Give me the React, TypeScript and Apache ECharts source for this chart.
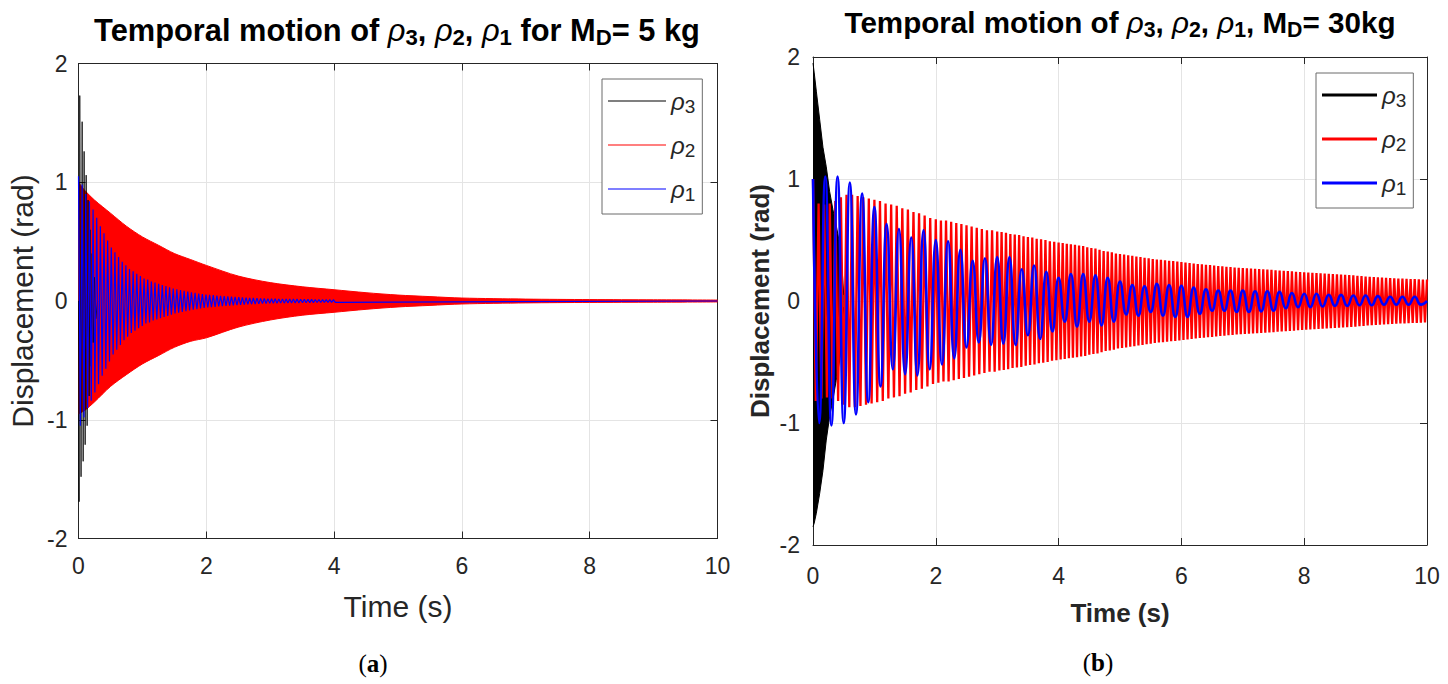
import { useEffect, useRef } from "react";
import * as echarts from "echarts";

// ---------- panel (a): M_D = 5 kg ----------
// rho3: the few large spikes right after t = 0
const rho3aTimes = [0, 0.01, 0.02, 0.04, 0.057, 0.073, 0.088, 0.104, 0.12, 0.135, 0.15, 0.166, 0.182, 0.198, 0.214, 0.23, 0.25, 0.27, 0.3];
const rho3aValues = [0, -1.69, 1.73, -1.48, 1.51, -1.35, 1.26, -1.21, 1.06, -1.05, 0.85, -0.8, 0.6, -0.55, 0.4, -0.35, 0.2, -0.15, 0];

// rho2: oscillates so fast it reads as a solid band; upper / lower edge of that band
const rho2aTimes = [0, 0.1, 0.25, 0.5, 0.75, 1, 1.25, 1.5, 1.75, 2, 2.5, 3, 3.5, 4, 4.5, 5, 5.5, 6, 7, 8, 9, 10];
const rho2aUpper = [1.0, 0.93, 0.85, 0.74, 0.63, 0.54, 0.47, 0.4, 0.35, 0.3, 0.21, 0.155, 0.12, 0.095, 0.07, 0.05, 0.037, 0.025, 0.016, 0.012, 0.01, 0.008];
const rho2aLower = [-0.95, -0.92, -0.85, -0.72, -0.62, -0.53, -0.46, -0.39, -0.34, -0.31, -0.22, -0.16, -0.12, -0.095, -0.07, -0.05, -0.037, -0.025, -0.016, -0.012, -0.01, -0.008];

// rho1: one amplitude per cycle, cycle length
const rho1aPeriod = 0.057;
const rho1aAmps = [
  1.05, 0.98, 0.9, 0.84, 0.77, 0.7, 0.63, 0.57, 0.51, 0.45,
  0.41, 0.37, 0.33, 0.3, 0.27, 0.25, 0.23, 0.21, 0.19, 0.18,
  0.165, 0.155, 0.145, 0.135, 0.125, 0.115, 0.105, 0.098, 0.092, 0.086,
  0.08, 0.074, 0.068, 0.063, 0.058, 0.055, 0.052, 0.049, 0.046, 0.043,
  0.041, 0.038, 0.036, 0.034, 0.032, 0.03, 0.028, 0.027, 0.025, 0.024,
  0.022, 0.021, 0.02, 0.019, 0.019, 0.018, 0.018, 0.017, 0.017, 0.016,
  0.016, 0.015, 0.015, 0.014, 0.014, 0.013, 0.013, 0.012, 0.012, 0.011, 0.011,
];

// ---------- panel (b): M_D = 30 kg ----------
const rho3bTimes = [0, 0.02, 0.054, 0.108, 0.162, 0.216, 0.27, 0.324, 0.378, 0.43, 0.47, 0.5];
const rho3bUpper = [1.95, 1.87, 1.72, 1.49, 1.26, 1.1, 0.9, 0.75, 0.62, 0.48, 0.3, 0.05];
const rho3bLower = [-1.85, -1.82, -1.74, -1.58, -1.39, -1.14, -0.95, -0.81, -0.65, -0.5, -0.3, -0.05];

// rho2: one row per second, one amplitude per cycle in that second
const rho2bStart = 1.0;
const rho2bBySecond = [
  [0.82, 0.8, 0.79, 0.8, 0.82, 0.85, 0.87, 0.87, 0.86, 0.85, 0.84],
  [0.83, 0.82, 0.8, 0.79, 0.78, 0.76, 0.75, 0.73, 0.72, 0.7, 0.68],
  [0.67, 0.66, 0.66, 0.65, 0.64, 0.63, 0.62, 0.61, 0.6, 0.59, 0.58, 0.58],
  [0.57, 0.565, 0.56, 0.55, 0.545, 0.54, 0.53, 0.525, 0.52, 0.51, 0.505, 0.5, 0.49, 0.485],
  [0.48, 0.475, 0.47, 0.465, 0.46, 0.455, 0.45, 0.44, 0.435, 0.43, 0.42, 0.41, 0.405, 0.4, 0.39],
  [0.385, 0.38, 0.375, 0.37, 0.365, 0.36, 0.355, 0.35, 0.345, 0.34, 0.337, 0.334, 0.33, 0.327, 0.324],
  [0.32, 0.316, 0.312, 0.308, 0.304, 0.3, 0.297, 0.294, 0.29, 0.287, 0.284, 0.281, 0.278, 0.275, 0.272],
  [0.27, 0.268, 0.266, 0.264, 0.262, 0.26, 0.257, 0.255, 0.252, 0.25, 0.248, 0.245, 0.243, 0.24, 0.238],
  [0.235, 0.233, 0.231, 0.229, 0.227, 0.225, 0.222, 0.22, 0.218, 0.216, 0.214, 0.212, 0.21, 0.207, 0.205],
  [0.2, 0.198, 0.196, 0.194, 0.192, 0.19, 0.189, 0.187, 0.185, 0.184, 0.182, 0.18, 0.179, 0.177, 0.176],
];

// rho1: peak and trough of every 0.2 s cycle
const rho1bPeriod = 0.2;
const rho1bUpper = [
  1.0, 1.02, 1.02, 0.97, 0.88, 0.77, 0.63, 0.59, 0.52, 0.58,
  0.5, 0.49, 0.42, 0.33, 0.35, 0.36, 0.36, 0.26, 0.29, 0.24,
  0.19, 0.22, 0.22, 0.21, 0.19, 0.16, 0.13, 0.12, 0.14, 0.13,
  0.125, 0.11, 0.095, 0.085, 0.085, 0.085, 0.08, 0.08, 0.075, 0.065,
  0.06, 0.06, 0.05, 0.05, 0.045, 0.045, 0.04, 0.035, 0.035, 0.035,
];
const rho1bLower = [
  -1.0, -1.02, -1.0, -0.93, -0.83, -0.7, -0.56, -0.6, -0.61, -0.56,
  -0.52, -0.47, -0.38, -0.34, -0.36, -0.35, -0.36, -0.28, -0.31, -0.25,
  -0.17, -0.21, -0.17, -0.2, -0.17, -0.11, -0.12, -0.09, -0.12, -0.13,
  -0.13, -0.105, -0.08, -0.08, -0.09, -0.09, -0.085, -0.08, -0.06, -0.05,
  -0.05, -0.045, -0.04, -0.04, -0.035, -0.035, -0.03, -0.03, -0.03, -0.03,
];

const xTicks = [0, 10, 2];
const yTicks = [-2, 2, 1];

const SANS = "Liberation Sans, Arial, Helvetica, sans-serif";
const SERIF = "Liberation Serif, Times New Roman, serif";
const AXIS = "#262626";
const GRID = "#e4e4e4";

const pairs = (ts: number[], vs: number[]) => ts.map((t, i) => [t, vs[i]]);

function buildRho1a() {
  const out: number[][] = [];
  rho1aAmps.forEach((a, k) => {
    out.push([k * rho1aPeriod, a], [k * rho1aPeriod + rho1aPeriod / 2, -a]);
  });
  out.push([10, 0]);
  return out;
}

function buildRho2b() {
  const out: number[][] = [];
  rho2bBySecond.forEach((row, s) => {
    const step = 1 / row.length;
    row.forEach((a, i) => {
      const t = s + i * step;
      out.push([t, s === 0 && i === 0 ? rho2bStart : a], [t + step / 2, -a]);
    });
  });
  const last = rho2bBySecond[rho2bBySecond.length - 1];
  out.push([10, last[last.length - 1]]);
  return out;
}

function buildRho1b() {
  const out: number[][] = [];
  rho1bUpper.forEach((u, k) => {
    out.push([k * rho1bPeriod, u], [k * rho1bPeriod + rho1bPeriod / 2, rho1bLower[k]]);
  });
  out.push([10, 0]);
  return out;
}

const boxLine = { show: true, onZero: false, lineStyle: { color: AXIS, width: 1 } };
const inTick = { show: true, inside: true, length: 7, lineStyle: { color: AXIS } };

const xAxes = (gridIndex: number, bold: boolean, nameSize: number, nameGap: number, labelMargin: number) => [
  {
    type: "value",
    gridIndex,
    min: xTicks[0],
    max: xTicks[1],
    interval: xTicks[2],
    name: "Time (s)",
    nameLocation: "middle",
    nameGap,
    nameTextStyle: { fontFamily: SANS, fontSize: nameSize, fontWeight: bold ? "bold" : "normal", color: AXIS },
    axisLine: boxLine,
    axisTick: inTick,
    axisLabel: { fontFamily: SANS, fontSize: 23, color: AXIS, margin: labelMargin },
    splitLine: { show: true, lineStyle: { color: GRID, width: 1 } },
  },
  {
    type: "value",
    gridIndex,
    position: "top",
    min: xTicks[0],
    max: xTicks[1],
    interval: xTicks[2],
    axisLine: boxLine,
    axisTick: inTick,
    axisLabel: { show: false },
    splitLine: { show: false },
  },
];

const yAxes = (gridIndex: number, bold: boolean, nameSize: number, nameGap: number, labelMargin: number) => [
  {
    type: "value",
    gridIndex,
    min: yTicks[0],
    max: yTicks[1],
    interval: yTicks[2],
    name: "Displacement (rad)",
    nameLocation: "middle",
    nameGap,
    nameTextStyle: { fontFamily: SANS, fontSize: nameSize, fontWeight: bold ? "bold" : "normal", color: AXIS },
    axisLine: boxLine,
    axisTick: inTick,
    axisLabel: { fontFamily: SANS, fontSize: 23, color: AXIS, margin: labelMargin },
    splitLine: { show: true, lineStyle: { color: GRID, width: 1 } },
  },
  {
    type: "value",
    gridIndex,
    position: "right",
    min: yTicks[0],
    max: yTicks[1],
    interval: yTicks[2],
    axisLine: boxLine,
    axisTick: inTick,
    axisLabel: { show: false },
    splitLine: { show: false },
  },
];

const legendRich = {
  g: { fontFamily: SANS, fontSize: 24, fontStyle: "italic", color: AXIS, lineHeight: 30 },
  s: { fontFamily: SANS, fontSize: 19, color: AXIS, lineHeight: 17, verticalAlign: "bottom" },
};

const legend = (left: number, top: number, itemWidth: number, itemHeight: number) => ({
  left,
  top,
  orient: "vertical",
  selectedMode: false,
  icon: "rect",
  itemWidth,
  itemHeight,
  itemGap: 17,
  padding: [10, 7, 10, 6],
  borderColor: "#6b6b6b",
  borderWidth: 1,
  backgroundColor: "#ffffff",
  data: [
    { name: "ρ3", itemStyle: { color: "#000000" } },
    { name: "ρ2", itemStyle: { color: "#ff0000" } },
    { name: "ρ1", itemStyle: { color: "#0000ff" } },
  ],
  formatter: (name: string) => `{g|ρ}{s|${name.slice(1)}}`,
  textStyle: { rich: legendRich },
});

const titleRich = (size: number) => ({
  b: { fontFamily: SANS, fontSize: size, fontWeight: "bold", color: "#000", lineHeight: 36 },
  g: { fontFamily: SANS, fontSize: size, fontStyle: "italic", color: "#000", lineHeight: 36 },
  s: { fontFamily: SANS, fontSize: size * 0.72, fontWeight: "bold", color: "#000", lineHeight: 20, verticalAlign: "bottom" },
});

const captionRich = {
  n: { fontFamily: SERIF, fontSize: 25, color: "#000" },
  b: { fontFamily: SERIF, fontSize: 25, fontWeight: "bold", color: "#000" },
};

const textEl = (x: number, y: number, text: string, rich: object) => ({
  type: "text",
  x,
  y,
  silent: true,
  style: { text, rich, align: "center", textAlign: "center", verticalAlign: "middle", textVerticalAlign: "middle" },
});

const line = (name: string, xi: number, yi: number, data: number[][], color: string, width: number, extra: object = {}) => ({
  type: "line",
  name,
  xAxisIndex: xi,
  yAxisIndex: yi,
  data,
  symbol: "none",
  silent: true,
  lineStyle: { color, width },
  itemStyle: { color },
  ...extra,
});

const band = (name: string, xi: number, yi: number, data: number[][], color: string, smooth: number) =>
  line(name, xi, yi, data, color, 1, { smooth, areaStyle: { color, opacity: 1 } });

export default function App() {
  const chartRef = useRef<HTMLDivElement>(null);

  useEffect(() => {
    if (!chartRef.current) return;
    document.body.style.margin = "0";
    const chart = echarts.init(chartRef.current, undefined, { renderer: "svg" });

    const option = {
      animation: false,
      grid: [
        { left: 78.5, top: 63.5, width: 639, height: 475 },
        { left: 813, top: 57, width: 614, height: 488 },
      ],
      xAxis: [...xAxes(0, false, 30, 53, 16), ...xAxes(1, true, 26, 55, 19)],
      yAxis: [...yAxes(0, false, 30, 41, 11), ...yAxes(1, true, 26, 40, 13)],
      legend: [legend(602, 79, 58, 1), legend(1316, 73, 55, 3)],
      graphic: [
        textEl(397, 30, "{b|Temporal motion of }{g|ρ}{s|3}{b|, }{g|ρ}{s|2}{b|, }{g|ρ}{s|1}{b| for M}{s|D}{b|= 5 kg}", titleRich(30.8)),
        textEl(1120, 22, "{b|Temporal motion of }{g|ρ}{s|3}{b|, }{g|ρ}{s|2}{b|, }{g|ρ}{s|1}{b|, M}{s|D}{b|= 30kg}", titleRich(29.6)),
        textEl(373, 663, "{n|(}{b|a}{n|)}", captionRich),
        textEl(1098, 662, "{n|(}{b|b}{n|)}", captionRich),
      ],
      series: [
        // panel (a)
        band("ρ2", 0, 0, pairs(rho2aTimes, rho2aUpper), "#ff0000", 0.3),
        band("ρ2", 0, 0, pairs(rho2aTimes, rho2aLower), "#ff0000", 0.3),
        line("ρ3", 0, 0, pairs(rho3aTimes, rho3aValues), "#000000", 0.8),
        line("ρ1", 0, 0, buildRho1a(), "#0000ff", 1.2),
        // panel (b)
        band("ρ3", 2, 2, pairs(rho3bTimes, rho3bUpper), "#000000", 0),
        band("ρ3", 2, 2, pairs(rho3bTimes, rho3bLower), "#000000", 0),
        line("ρ2", 2, 2, buildRho2b(), "#ff0000", 2.3),
        line("ρ1", 2, 2, buildRho1b(), "#0000ff", 2.6, { smooth: 0.5 }),
      ],
    };

    chart.setOption(option as any);

    const handleResize = () => chart.resize();
    window.addEventListener("resize", handleResize);
    return () => {
      window.removeEventListener("resize", handleResize);
      chart.dispose();
    };
  }, []);

  return <div ref={chartRef} style={{ width: "1448px", height: "684px" }} />;
}
